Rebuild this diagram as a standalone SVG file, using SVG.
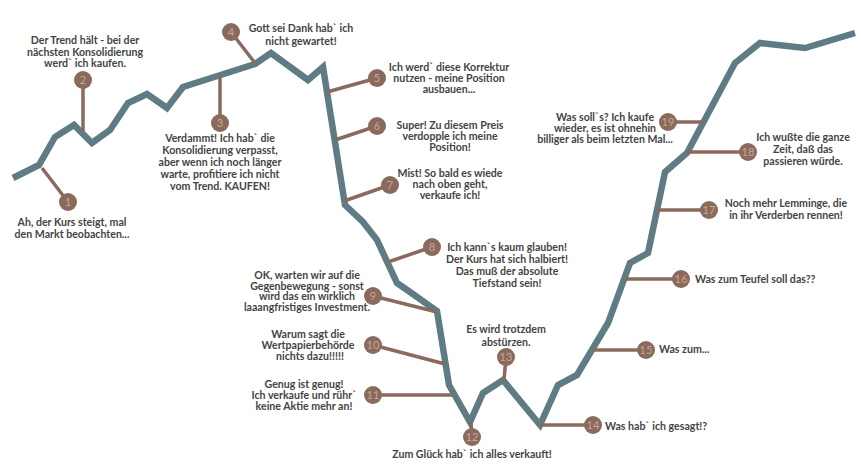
<svg xmlns="http://www.w3.org/2000/svg" width="861" height="473" viewBox="0 0 861 473">
<style>
.curve{fill:none;stroke:#5f7b83;stroke-width:6.5;stroke-linejoin:miter;stroke-linecap:butt}
.pin{stroke:#8a6a5c;stroke-width:3.5;fill:none}
.dot{fill:#8a6a5c}
.num{font-family:"Lato","Liberation Sans",sans-serif;font-size:11px;fill:#c6a595;text-anchor:middle}
.t{font-family:"Lato","Liberation Sans",sans-serif;font-size:10.6px;font-weight:bold;fill:#444444;text-anchor:middle}
.l{text-anchor:start}
</style>
<rect width="861" height="473" fill="#ffffff"/>
<g id="connectors">
<polyline class="curve" points="13,178 39,165 55,137 74,125 92,143 110,130 128,103 147,94 167,108 183,87 255,64 271,53 308,80 323,67 345,205 363,222 377,240 397,283 410,292 437,311 449,385 470,422 483,393 503,380 540,425 558,385 577,375 608,323 630,263 648,253 665,172 687,153 735,63 760,43 805,48 855,33"/>
<line class="pin" x1="42" y1="168" x2="68" y2="202"/>
<line class="pin" x1="83" y1="80" x2="83" y2="131"/>
<line class="pin" x1="220" y1="123" x2="220" y2="76"/>
<line class="pin" x1="231" y1="32" x2="255" y2="63"/>
<line class="pin" x1="377" y1="78" x2="327" y2="92"/>
<line class="pin" x1="377" y1="126" x2="335" y2="140"/>
<line class="pin" x1="390" y1="185" x2="344" y2="201"/>
<line class="pin" x1="432" y1="247" x2="388" y2="262"/>
<line class="pin" x1="373" y1="296" x2="437" y2="312"/>
<line class="pin" x1="373" y1="345" x2="445" y2="364"/>
<line class="pin" x1="373" y1="395" x2="454" y2="395"/>
<line class="pin" x1="472" y1="437" x2="471" y2="422"/>
<line class="pin" x1="506" y1="357" x2="504" y2="380"/>
<line class="pin" x1="540" y1="425" x2="593" y2="425"/>
<line class="pin" x1="593" y1="350" x2="646" y2="350"/>
<line class="pin" x1="625" y1="279" x2="681" y2="279"/>
<line class="pin" x1="657" y1="210" x2="709" y2="210"/>
<line class="pin" x1="687" y1="152" x2="748" y2="152"/>
<line class="pin" x1="668" y1="122" x2="703" y2="122"/>
</g>
<g id="n1"><circle class="dot" cx="68" cy="202" r="9"/><text class="num" x="68" y="206">1</text>
<text class="t" x="72" y="226">Ah, der Kurs steigt, mal<tspan x="72" dy="11.5">den Markt beobachten...</tspan></text></g>
<g id="n2"><circle class="dot" cx="83" cy="80" r="9"/><text class="num" x="83" y="84">2</text>
<text class="t" x="85" y="44">Der Trend hält - bei der<tspan x="85" dy="11.5">nächsten Konsolidierung</tspan><tspan x="85" dy="11.5">werd` ich kaufen.</tspan></text></g>
<g id="n3"><circle class="dot" cx="220" cy="123" r="9"/><text class="num" x="220" y="127">3</text>
<text class="t" x="220" y="142">Verdammt! Ich hab` die<tspan x="220" dy="12">Konsolidierung verpasst,</tspan><tspan x="220" dy="12">aber wenn ich noch länger</tspan><tspan x="220" dy="12">warte, profitiere ich nicht</tspan><tspan x="220" dy="12">vom Trend. KAUFEN!</tspan></text></g>
<g id="n4"><circle class="dot" cx="231" cy="32" r="9"/><text class="num" x="231" y="36">4</text>
<text class="t" x="301" y="32">Gott sei Dank hab` ich<tspan x="301" dy="13">nicht gewartet!</tspan></text></g>
<g id="n5"><circle class="dot" cx="377" cy="78" r="9"/><text class="num" x="377" y="82">5</text>
<text class="t" x="449" y="71">Ich werd` diese Korrektur<tspan x="449" dy="11">nutzen - meine Position</tspan><tspan x="449" dy="11">ausbauen...</tspan></text></g>
<g id="n6"><circle class="dot" cx="377" cy="126" r="9"/><text class="num" x="377" y="130">6</text>
<text class="t" x="450" y="129">Super! Zu diesem Preis<tspan x="450" dy="11">verdopple ich meine</tspan><tspan x="450" dy="11">Position!</tspan></text></g>
<g id="n7"><circle class="dot" cx="390" cy="185" r="9"/><text class="num" x="390" y="189">7</text>
<text class="t" x="450" y="177">Mist! So bald es wiede<tspan x="450" dy="11">nach oben geht,</tspan><tspan x="450" dy="11">verkaufe ich!</tspan></text></g>
<g id="n8"><circle class="dot" cx="432" cy="247" r="9"/><text class="num" x="432" y="251">8</text>
<text class="t" x="507" y="251">Ich kann`s kaum glauben!<tspan x="507" dy="12">Der Kurs hat sich halbiert!</tspan><tspan x="507" dy="12">Das muß der absolute</tspan><tspan x="507" dy="12">Tiefstand sein!</tspan></text></g>
<g id="n9"><circle class="dot" cx="373" cy="296" r="9"/><text class="num" x="373" y="300">9</text>
<text class="t" x="307" y="279">OK, warten wir auf die<tspan x="307" dy="10.7">Gegenbewegung - sonst</tspan><tspan x="307" dy="10.7">wird das ein wirklich</tspan><tspan x="307" dy="10.7">laaangfristiges Investment.</tspan></text></g>
<g id="n10"><circle class="dot" cx="373" cy="345" r="9"/><text class="num" x="373" y="349">10</text>
<text class="t" x="308" y="338">Warum sagt die<tspan x="308" dy="11">Wertpapierbehörde</tspan><tspan x="310" dy="11">nichts dazu!!!!!</tspan></text></g>
<g id="n11"><circle class="dot" cx="373" cy="395" r="9"/><text class="num" x="373" y="399">11</text>
<text class="t" x="304" y="388">Genug ist genug!<tspan x="304" dy="11">Ich verkaufe und rühr`</tspan><tspan x="304" dy="11">keine Aktie mehr an!</tspan></text></g>
<g id="n12"><circle class="dot" cx="472" cy="437" r="9"/><text class="num" x="472" y="441">12</text>
<text class="t" x="472" y="458">Zum Glück hab` ich alles verkauft!</text></g>
<g id="n13"><circle class="dot" cx="506" cy="357" r="9"/><text class="num" x="506" y="361">13</text>
<text class="t" x="506" y="333">Es wird trotzdem<tspan x="506" dy="13">abstürzen.</tspan></text></g>
<g id="n14"><circle class="dot" cx="593" cy="425" r="9"/><text class="num" x="593" y="429">14</text>
<text class="t l" x="605" y="430">Was hab` ich gesagt!?</text></g>
<g id="n15"><circle class="dot" cx="646" cy="350" r="9"/><text class="num" x="646" y="354">15</text>
<text class="t l" x="659" y="353">Was zum...</text></g>
<g id="n16"><circle class="dot" cx="681" cy="279" r="9"/><text class="num" x="681" y="283">16</text>
<text class="t l" x="695" y="283">Was zum Teufel soll das??</text></g>
<g id="n17"><circle class="dot" cx="709" cy="210" r="9"/><text class="num" x="709" y="214">17</text>
<text class="t" x="786" y="207">Noch mehr Lemminge, die<tspan x="786" dy="12">in ihr Verderben rennen!</tspan></text></g>
<g id="n18"><circle class="dot" cx="748" cy="152" r="9"/><text class="num" x="748" y="156">18</text>
<text class="t" x="803" y="141">Ich wußte die ganze<tspan x="803" dy="12">Zeit, daß das</tspan><tspan x="803" dy="12">passieren würde.</tspan></text></g>
<g id="n19"><circle class="dot" cx="668" cy="122" r="9"/><text class="num" x="668" y="126">19</text>
<text class="t" x="605" y="121">Was soll`s? Ich kaufe<tspan x="605" dy="11">wieder, es ist ohnehin</tspan><tspan x="605" dy="11">billiger als beim letzten Mal...</tspan></text></g>
</svg>
